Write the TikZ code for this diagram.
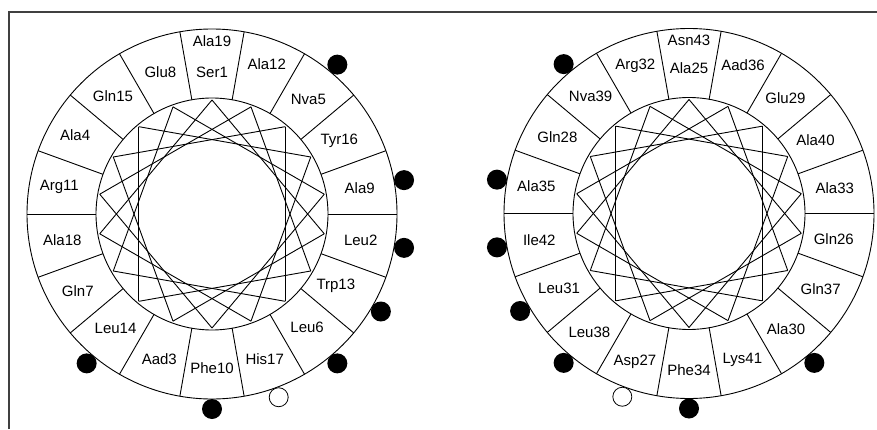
\documentclass[tikz,border=0pt]{standalone}
\usepackage{fontspec}
\setmainfont{Liberation Sans}
\begin{document}
\begin{tikzpicture}[x=1pt,y=1pt,
  wheel/.style={line width=0.9pt},
  res/.style={font=\fontsize{15}{15}\selectfont, inner sep=0pt},
  hdot/.style={circle, fill=black, minimum size=20pt, inner sep=0pt},
  odot/.style={circle, draw=black, fill=white, line width=0.8pt, minimum size=19pt, inner sep=0pt},
  frameline/.style={line width=1.3pt, draw=black!75}]
\useasboundingbox (0,0) rectangle (877,429);
% open frame: left and top edges
\draw[frameline] (9,0) -- (9,417) -- (877,417);

% left wheel: residues 1-19
\begin{scope}[shift={(212,215)}]
  \draw[wheel] (0,0) circle (185);
  \draw[wheel] (0,0) circle (116);
  \foreach \a in {0,20,...,340} \draw[wheel] (\a:116) -- (\a:185);
  \foreach \k in {1,...,19} \coordinate (A\k) at ({90-100*(\k-1)}:114);
  \foreach \k [evaluate=\k as \j using int(\k+1)] in {1,...,18} \draw[wheel] (A\k) -- (A\j);
  \foreach \t/\a/\r in {Ser1/90/142, Leu2/-10/151, Aad3/-110/154, Ala4/150/158,
      Nva5/50/150, Leu6/-50/148, Gln7/210/155, Glu8/110/151, Ala9/10/150,
      Phe10/-90/154, Arg11/170/155, Ala12/70/160, Trp13/-30/143, Leu14/230/150,
      Gln15/130/154, Tyr16/30/147, His17/-70/154, Ala18/190/152, Ala19/90/173}
    \node[res] (lab\t) at (\a:\r) {\t};
  \foreach \a [count=\i] in {50,10,-10,-30,-50,-90,230}
    \node[hdot] (hA\i) at (\a:195) {};
  \node[odot] (oA) at (-70:195) {};
\end{scope}

% right wheel: residues 25-43
\begin{scope}[shift={(689,215.5)}]
  \draw[wheel] (0,0) circle (185);
  \draw[wheel] (0,0) circle (116);
  \foreach \a in {0,20,...,340} \draw[wheel] (\a:116) -- (\a:185);
  \foreach \k in {1,...,19} \coordinate (B\k) at ({90-100*(\k-1)}:114);
  \foreach \k [evaluate=\k as \j using int(\k+1)] in {1,...,18} \draw[wheel] (B\k) -- (B\j);
  \foreach \t/\a/\r in {Ala25/90/145, Gln26/-10/147, Asp27/-110/158, Gln28/150/152,
      Glu29/50/150, Ala30/-50/151, Leu31/210/150, Arg32/110/157, Ala33/10/148,
      Phe34/-90/157, Ala35/170/155, Aad36/70/158, Gln37/-30/152, Leu38/230/155,
      Nva39/130/153, Ala40/30/146, Lys41/-70/156, Ile42/190/152, Asn43/90/173}
    \node[res] (lab\t) at (\a:\r) {\t};
  \foreach \a [count=\i] in {130,170,190,210,230,-90,-50}
    \node[hdot] (hB\i) at (\a:195) {};
  \node[odot] (oB) at (250:195) {};
\end{scope}
\end{tikzpicture}
\end{document}
